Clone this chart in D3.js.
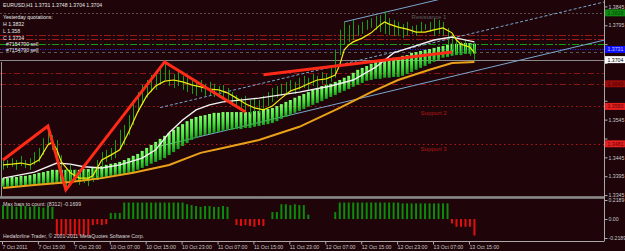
<!DOCTYPE html>
<html>
<head>
<meta charset="utf-8">
<script src="https://cdn.jsdelivr.net/npm/d3@7"></script>
<style>
  html, body { margin: 0; padding: 0; background: #1f0509; }
  svg { display: block; font-family: "Liberation Sans", Arial, sans-serif; }
</style>
</head>
<body>
<div id="chart"></div>
<script>
// EURUSD H1 bars, one entry per hourly bar (7 Oct 07:00 -> 13 Oct 16:00)
var barHigh = [1.3443,1.3438,1.3443,1.3438,1.3449,1.3438,1.3443,1.3459,1.3470,1.3496,
  1.3528,1.3504,1.3491,1.3451,1.3417,1.3425,1.3412,1.3406,1.3412,1.3406,
  1.3417,1.3438,1.3459,1.3465,1.3470,1.3491,1.3518,1.3531,1.3557,1.3597,
  1.3618,1.3637,1.3650,1.3663,1.3671,1.3682,1.3698,1.3677,1.3666,1.3671,
  1.3661,1.3656,1.3650,1.3645,1.3650,1.3640,1.3645,1.3640,1.3634,1.3637,
  1.3629,1.3618,1.3610,1.3603,1.3608,1.3597,1.3603,1.3597,1.3608,1.3618,
  1.3629,1.3634,1.3640,1.3645,1.3650,1.3645,1.3656,1.3661,1.3656,1.3666,
  1.3661,1.3671,1.3666,1.3687,1.3730,1.3783,1.3804,1.3796,1.3809,1.3796,
  1.3804,1.3809,1.3814,1.3820,1.3822,1.3832,1.3814,1.3809,1.3804,1.3798,
  1.3804,1.3793,1.3796,1.3804,1.3798,1.3804,1.3814,1.3809,1.3804,1.3788,
  1.3769,1.3756,1.3751,1.3756,1.3746,1.3748];
var barLow = [1.3412,1.3417,1.3420,1.3412,1.3422,1.3417,1.3412,1.3425,1.3433,1.3451,
  1.3478,1.3465,1.3425,1.3398,1.3359,1.3380,1.3380,1.3372,1.3377,1.3369,
  1.3380,1.3396,1.3417,1.3433,1.3438,1.3443,1.3465,1.3478,1.3504,1.3531,
  1.3565,1.3584,1.3603,1.3618,1.3624,1.3637,1.3650,1.3634,1.3629,1.3634,
  1.3624,1.3618,1.3613,1.3608,1.3618,1.3608,1.3610,1.3605,1.3603,1.3597,
  1.3592,1.3581,1.3576,1.3571,1.3565,1.3560,1.3565,1.3563,1.3571,1.3581,
  1.3592,1.3603,1.3608,1.3610,1.3618,1.3613,1.3624,1.3629,1.3624,1.3634,
  1.3629,1.3640,1.3634,1.3645,1.3656,1.3716,1.3743,1.3751,1.3756,1.3767,
  1.3772,1.3783,1.3788,1.3783,1.3777,1.3772,1.3769,1.3767,1.3767,1.3761,
  1.3767,1.3772,1.3767,1.3777,1.3783,1.3777,1.3767,1.3772,1.3767,1.3743,
  1.3730,1.3724,1.3719,1.3724,1.3714,1.3704];

// green band indicator (upper / lower edge per bar)
var bandTop = [1.3390,1.3390,1.3393,1.3393,1.3396,1.3396,1.3398,1.3401,1.3404,1.3406,
  1.3409,1.3412,1.3412,1.3412,1.3412,1.3412,1.3412,1.3412,1.3414,1.3414,
  1.3417,1.3420,1.3422,1.3425,1.3428,1.3430,1.3433,1.3438,1.3443,1.3449,
  1.3454,1.3462,1.3470,1.3478,1.3486,1.3494,1.3502,1.3510,1.3518,1.3526,
  1.3533,1.3541,1.3547,1.3552,1.3555,1.3557,1.3560,1.3563,1.3563,1.3565,
  1.3565,1.3565,1.3565,1.3565,1.3565,1.3565,1.3568,1.3568,1.3571,1.3573,
  1.3576,1.3581,1.3586,1.3592,1.3597,1.3603,1.3608,1.3613,1.3618,1.3624,
  1.3629,1.3634,1.3637,1.3640,1.3645,1.3650,1.3656,1.3661,1.3669,1.3677,
  1.3682,1.3687,1.3693,1.3698,1.3701,1.3703,1.3706,1.3709,1.3711,1.3714,
  1.3716,1.3722,1.3724,1.3727,1.3730,1.3732,1.3735,1.3738,1.3740,1.3743,
  1.3746,1.3746,1.3748,1.3748,1.3748,1.3746];
var bandBottom = [1.3367,1.3367,1.3367,1.3369,1.3369,1.3369,1.3372,1.3372,1.3372,1.3374,
  1.3374,1.3374,1.3377,1.3377,1.3377,1.3380,1.3380,1.3380,1.3382,1.3382,
  1.3385,1.3385,1.3388,1.3390,1.3393,1.3396,1.3398,1.3401,1.3404,1.3406,
  1.3412,1.3417,1.3422,1.3428,1.3433,1.3438,1.3443,1.3451,1.3459,1.3467,
  1.3475,1.3483,1.3491,1.3496,1.3502,1.3504,1.3507,1.3510,1.3512,1.3515,
  1.3518,1.3518,1.3520,1.3520,1.3523,1.3523,1.3526,1.3528,1.3531,1.3533,
  1.3536,1.3541,1.3547,1.3552,1.3557,1.3563,1.3568,1.3573,1.3579,1.3584,
  1.3589,1.3594,1.3600,1.3605,1.3610,1.3616,1.3621,1.3626,1.3632,1.3637,
  1.3642,1.3648,1.3650,1.3653,1.3653,1.3656,1.3656,1.3658,1.3658,1.3661,
  1.3666,1.3671,1.3677,1.3682,1.3687,1.3693,1.3698,1.3703,1.3709,1.3711,
  1.3714,1.3716,1.3716,1.3719,1.3719,1.3719];

// moving averages as [bar, price]
var fastMA = [[0,1.3425],[2,1.3427],[4,1.3430],[6,1.3425],[8,1.3438],[10,1.3478],[11,1.3486],
  [12,1.3465],[13,1.3433],[15,1.3404],[17,1.3390],[19,1.3390],[20,1.3396],[22,1.3438],
  [24,1.3451],[26,1.3465],[28,1.3512],[30,1.3565],[32,1.3608],[34,1.3634],[36,1.3647],
  [38,1.3650],[40,1.3645],[42,1.3637],[44,1.3632],[46,1.3626],[48,1.3624],[50,1.3616],
  [52,1.3602],[54,1.3587],[56,1.3576],[58,1.3571],[60,1.3581],[62,1.3602],[64,1.3621],
  [66,1.3629],[68,1.3640],[70,1.3650],[72,1.3653],[74,1.3663],[75,1.3690],[76,1.3730],
  [77,1.3743],[78,1.3751],[80,1.3761],[82,1.3775],[84,1.3796],[85,1.3804],[86,1.3798],
  [88,1.3790],[90,1.3785],[92,1.3777],[94,1.3777],[96,1.3783],[98,1.3788],[100,1.3775],
  [101,1.3756],[102,1.3745],[104,1.3737],[105,1.3722]];
var midMA = [[0,1.3390],[7,1.3406],[12,1.3430],[15,1.3427],[18,1.3420],[22,1.3417],[26,1.3425],
  [31,1.3443],[34,1.3465],[37,1.3510],[40,1.3544],[43,1.3571],[46,1.3584],[49,1.3592],
  [57,1.3602],[66,1.3618],[73,1.3634],[78,1.3650],[83,1.3684],[87,1.3722],[91,1.3737],
  [96,1.3756],[100,1.3764],[101,1.3761],[105,1.3751]];
var slowMA = [[0,1.3364],[7,1.3372],[15,1.3380],[22,1.3390],[29,1.3404],[37,1.3425],[44,1.3457],
  [49,1.3470],[57,1.3491],[66,1.3526],[75,1.3576],[82,1.3618],[88,1.3650],[95,1.3677],
  [100,1.3695],[105,1.3698]];

// zigzag swings and drawn trend line [bar, price]
var zigzag = [[0,1.3438],[10,1.3528],[14,1.3359],[36,1.3698],[54,1.3565]];
var trendLine = [[58,1.3664],[100,1.3724]];

// deviation channel lines [bar, price]
var channelUpper = [[76,1.3804],[97,1.3863]];
var channelMiddle = [[35,1.3577],[134,1.3857]];
var channelLower = [[35,1.3475],[134,1.3756]];

// histogram in the sub window
var histValues = [0.16,0.15,0.15,0.14,0.16,0.15,0.14,0.15,0.14,0.13,0.15,0.14,
  -0.19,-0.19,-0.19,-0.19,-0.19,-0.19,-0.19,-0.19,
  -0.07,-0.06,-0.07,-0.06,
  0.07,0.07,0.07,
  0.19,0.19,0.19,0.19,0.19,0.19,0.19,0.19,0.19,0.19,0.19,0.19,0.19,0.19,
  0.17,0.16,0.15,0.14,0.15,0.15,0.14,0.14,0.15,0.14,
  0,
  -0.07,-0.08,-0.07,-0.08,-0.09,-0.07,-0.08,
  0,
  0.08,0.08,
  0.17,0.17,0.16,0.17,0.16,0.16,
  0.05,
  0,0,0,0,0,
  0.08,
  0.19,0.19,0.19,0.19,0.19,0.19,0.19,0.19,0.19,0.19,0.19,0.19,0.19,0.19,
  0.18,0.18,0.18,0.18,0.18,0.18,0.18,0.18,0.18,0.18,0.18,
  -0.05,-0.09,-0.09,-0.09,-0.09,-0.19];

// horizontal levels
var levelPrices = [1.3828, 1.3769, 1.3758, 1.3745, 1.3731, 1.3724, 1.3704, 1.3669, 1.3640, 1.3580, 1.3481];
var levelKinds = ["resist", "pivotHi", "pivotHi", "target", "order", "grey", "bid", "pivotLo", "pivotLo", "support", "support"];

// price tags on the right scale
var tagPrices = [1.3828, 1.3731, 1.3704, 1.3640, 1.3580, 1.3481];
var tagKinds = ["green", "blue", "bid", "darkred", "red", "red"];

var noteTexts = ["Resistance 1", "Support 2", "Support 3"];
var notePrices = [1.3817, 1.3563, 1.3468];
var noteBars = [91, 93, 93];

var priceTicks = [1.3845, 1.3795, 1.3745, 1.3695, 1.3645, 1.3595, 1.3545, 1.3495, 1.3445, 1.3395, 1.3345];
var histTicks = [0.2189, 0, -0.2189];
var timeTickBars = [0, 8, 16, 24, 32, 40, 48, 56, 64, 72, 80, 88, 96, 104];
var timeLabels = ["7 Oct 2011", "7 Oct 15:00", "7 Oct 23:00", "10 Oct 07:00", "10 Oct 15:00",
  "10 Oct 23:00", "11 Oct 07:00", "11 Oct 15:00", "11 Oct 23:00", "12 Oct 07:00",
  "12 Oct 15:00", "12 Oct 23:00", "13 Oct 07:00", "13 Oct 15:00"];

var infoLines = ["Yesterday quotations:", "H 1.3832", "L 1.358", "C 1.3734"];

var svgWidth = 625, svgHeight = 251;
var axisX = 604, mainBottom = 197, subBottom = 241;
var fontSize = "5.2px";

var svg = d3.select("#chart").append("svg")
  .attr("width", svgWidth)
  .attr("height", svgHeight);

svg.append("rect").attr("width", svgWidth).attr("height", svgHeight).attr("fill", "#1f0509");

var defs = svg.append("defs");
defs.append("clipPath").attr("id", "mainClip")
  .append("rect").attr("x", 0).attr("y", 0).attr("width", axisX).attr("height", mainBottom - 0.5);
var grad = defs.append("linearGradient").attr("id", "bandGrad")
  .attr("x1", 0).attr("y1", 0).attr("x2", 0).attr("y2", 1);
grad.append("stop").attr("offset", "0%").attr("stop-color", "#7dff6a");
grad.append("stop").attr("offset", "55%").attr("stop-color", "#3fe23a");
grad.append("stop").attr("offset", "100%").attr("stop-color", "#1a9f1e");

var x = d3.scaleLinear().domain([0, 105]).range([3, 3 + 105 * 4.49]);
var y = d3.scaleLinear().domain([1.3340, 1.3862]).range([mainBottom, 0]);
var yHist = d3.scaleLinear().domain([-0.2189, 0.2189]).range([238, 200]);

var main = svg.append("g").attr("clip-path", "url(#mainClip)");

// horizontal levels
var levelStyle = {
  resist: { c: "#5a5050", d: "2,2", w: 1 },
  pivotHi: { c: "#9a1a1a", d: "7,2,2,2", w: 1 },
  target: { c: "#10a010", d: "7,2,2,2", w: 1 },
  order: { c: "#2a2aff", d: "1,1.5", w: 1 },
  grey: { c: "#5a5a5a", d: "3,3", w: 1 },
  bid: { c: "#8a8a8a", d: null, w: 1 },
  pivotLo: { c: "#8f1515", d: "6,3,2,3", w: 1 },
  support: { c: "#b01818", d: "1.5,3", w: 1 }
};
main.selectAll("line.level")
  .data(levelPrices)
  .enter()
  .append("line")
  .attr("class", "level")
  .attr("x1", 0).attr("x2", axisX)
  .attr("y1", d => Math.round(y(d)) + 0.5)
  .attr("y2", d => Math.round(y(d)) + 0.5)
  .attr("stroke", (d, i) => levelStyle[levelKinds[i]].c)
  .attr("stroke-width", (d, i) => levelStyle[levelKinds[i]].w)
  .attr("stroke-dasharray", (d, i) => levelStyle[levelKinds[i]].d);

// channel lines
var line = d3.line().x(d => x(d[0])).y(d => y(d[1]));
main.append("path").attr("d", line(channelUpper)).attr("fill", "none")
  .attr("stroke", "#7aa6cf").attr("stroke-width", 1);
main.append("path").attr("d", line(channelMiddle)).attr("fill", "none")
  .attr("stroke", "#7aa6cf").attr("stroke-width", 1).attr("stroke-dasharray", "3,2");
main.append("path").attr("d", line(channelLower)).attr("fill", "none")
  .attr("stroke", "#7aa6cf").attr("stroke-width", 1);

// green band bars
main.selectAll("rect.band")
  .data(bandTop)
  .enter()
  .append("rect")
  .attr("class", "band")
  .attr("x", (d, i) => x(i) - 1.5)
  .attr("width", 3)
  .attr("y", d => y(d))
  .attr("height", (d, i) => y(bandBottom[i]) - y(d))
  .attr("fill", "url(#bandGrad)");

// price bars
main.selectAll("line.bar")
  .data(barHigh)
  .enter()
  .append("line")
  .attr("class", "bar")
  .attr("x1", (d, i) => Math.round(x(i)) + 0.5)
  .attr("x2", (d, i) => Math.round(x(i)) + 0.5)
  .attr("y1", d => y(d))
  .attr("y2", (d, i) => y(barLow[i]))
  .attr("stroke", "#14a014")
  .attr("stroke-width", 1);

// moving averages
main.append("path").attr("d", line(slowMA)).attr("fill", "none")
  .attr("stroke", "#eaa018").attr("stroke-width", 2);
main.append("path").attr("d", line(midMA)).attr("fill", "none")
  .attr("stroke", "#f2f2f2").attr("stroke-width", 1.4);
main.append("path").attr("d", line(fastMA)).attr("fill", "none")
  .attr("stroke", "#eeee10").attr("stroke-width", 1.2);

// zigzag + trend line
main.append("path").attr("d", line(zigzag)).attr("fill", "none")
  .attr("stroke", "#ff2a18").attr("stroke-width", 3).attr("stroke-linejoin", "miter");
main.append("path").attr("d", line(trendLine)).attr("fill", "none")
  .attr("stroke", "#ff2a18").attr("stroke-width", 3);

// level notes
main.selectAll("text.note")
  .data(noteTexts)
  .enter()
  .append("text")
  .attr("class", "note")
  .attr("x", (d, i) => x(noteBars[i]))
  .attr("y", (d, i) => y(notePrices[i]) + 2)
  .attr("font-size", "6px")
  .attr("fill", (d, i) => i === 0 ? "#5c5c5c" : "#b01818")
  .text(d => d);

// info text
svg.append("text").attr("x", 3).attr("y", 7).attr("font-size", fontSize).attr("fill", "#e6e6e6")
  .text("EURUSD,H1  1.3731 1.3748 1.3704 1.3704");
svg.selectAll("text.info")
  .data(infoLines)
  .enter()
  .append("text")
  .attr("class", "info")
  .attr("x", 3)
  .attr("y", (d, i) => 19 + i * 7)
  .attr("font-size", fontSize)
  .attr("fill", "#e6e6e6")
  .text(d => d);
svg.append("text").attr("x", 6).attr("y", 45.5).attr("font-size", fontSize).attr("fill", "#e6e6e6")
  .text("#7154790 sell");
svg.append("text").attr("x", 6).attr("y", 51.5).attr("font-size", fontSize).attr("fill", "#e6e6e6")
  .text("#7154790 sell");

// left border of main window
svg.append("line").attr("x1", 1.5).attr("x2", 1.5).attr("y1", 62).attr("y2", mainBottom)
  .attr("stroke", "#9a9a9a").attr("stroke-width", 1);

// window separator
svg.append("rect").attr("x", 0).attr("y", mainBottom - 0.5).attr("width", axisX).attr("height", 2.5)
  .attr("fill", "#6e6e6e");
svg.append("line").attr("x1", 0).attr("x2", axisX).attr("y1", mainBottom).attr("y2", mainBottom)
  .attr("stroke", "#a8a8a8").attr("stroke-width", 1);

// histogram
svg.append("g").selectAll("rect")
  .data(histValues)
  .enter()
  .append("rect")
  .attr("x", (d, i) => x(i) - 1)
  .attr("width", 2)
  .attr("y", d => d >= 0 ? yHist(d) : yHist(0))
  .attr("height", d => Math.abs(yHist(d) - yHist(0)))
  .attr("fill", d => d >= 0 ? "#0b8c0b" : "#e01010");

svg.append("text").attr("x", 3).attr("y", 205.5).attr("font-size", fontSize).attr("fill", "#d8d8d8")
  .text("Max bars to count: (8312)  -0.1699");
svg.append("text").attr("x", 3).attr("y", 238).attr("font-size", fontSize).attr("fill", "#d8d8d8")
  .text("Hedaforline Trader, \u00a9 2001-2011 MetaQuotes Software Corp.");

// right price scale (labels hidden where a price tag sits on top)
var tagY = tagPrices.map(p => y(p));
var priceAxis = svg.append("g")
  .attr("transform", `translate(${axisX + 0.5}, 0)`)
  .call(d3.axisRight(y).tickValues(priceTicks).tickSize(3).tickPadding(1).tickFormat(d3.format(".4f")));
priceAxis.selectAll(".tick text")
  .filter(d => tagY.some(t => Math.abs(t - y(d)) < 6))
  .remove();
var histAxis = svg.append("g")
  .attr("transform", `translate(${axisX + 0.5}, 0)`)
  .call(d3.axisRight(yHist).tickValues(histTicks).tickSize(3).tickPadding(1)
    .tickFormat(d => d === 0 ? "0.00" : d.toFixed(4)));
[priceAxis, histAxis].forEach(function(g) {
  g.select(".domain").remove();
  g.selectAll("line").attr("stroke", "#b0b0b0");
  g.selectAll("text").attr("fill", "#c8c8c8").attr("font-size", fontSize)
    .attr("font-family", "Liberation Sans, Arial, sans-serif");
});
svg.append("line").attr("x1", axisX + 0.5).attr("x2", axisX + 0.5).attr("y1", 0).attr("y2", subBottom)
  .attr("stroke", "#a8a8a8").attr("stroke-width", 1);

// time axis
var timeAxis = svg.append("g")
  .attr("transform", `translate(0, ${subBottom + 0.5})`)
  .call(d3.axisBottom(x).tickValues(timeTickBars).tickSize(3).tickPadding(1)
    .tickFormat((d, i) => timeLabels[i]));
timeAxis.select(".domain").remove();
timeAxis.selectAll("line").attr("stroke", "#b0b0b0").attr("transform", "translate(-1,0)");
timeAxis.selectAll("text").attr("fill", "#c8c8c8").attr("font-size", fontSize)
  .attr("font-family", "Liberation Sans, Arial, sans-serif")
  .attr("text-anchor", "start").attr("dx", "-1");
svg.append("line").attr("x1", 0).attr("x2", axisX + 0.5).attr("y1", subBottom + 0.5).attr("y2", subBottom + 0.5)
  .attr("stroke", "#a8a8a8").attr("stroke-width", 1);

// price tags
var tagStyle = {
  green: { bg: "#0f8a12", fg: "#0a4a0a" },
  blue: { bg: "#1010ff", fg: "#c8c8ff" },
  bid: { bg: "#ffffff", fg: "#000000" },
  darkred: { bg: "#9a0c0c", fg: "#4a0000" },
  red: { bg: "#e42020", fg: "#6a0000" }
};
var tags = svg.append("g").selectAll("g")
  .data(tagPrices)
  .enter()
  .append("g")
  .attr("transform", d => `translate(${axisX + 1}, ${y(d)})`);
tags.append("rect").attr("x", 0).attr("y", -3.5).attr("width", svgWidth - axisX - 1).attr("height", 7)
  .attr("fill", (d, i) => tagStyle[tagKinds[i]].bg);
tags.append("text").attr("x", 2.5).attr("y", 2).attr("font-size", fontSize)
  .attr("fill", (d, i) => tagStyle[tagKinds[i]].fg)
  .text(d => d3.format(".4f")(d));
</script>
</body>
</html>
